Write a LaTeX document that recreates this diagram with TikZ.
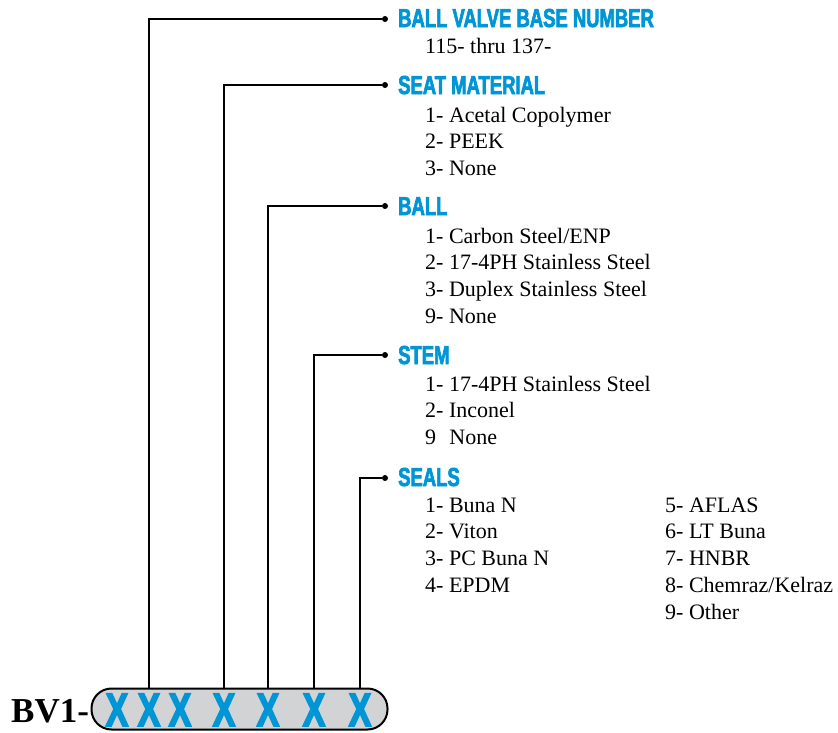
\documentclass[tikz,border=0pt]{standalone}
\usepackage{fontspec}
\setmainfont{Liberation Serif}
\newfontfamily\headfont[FakeStretch=0.71,FakeBold=2.6]{Liberation Sans Bold}
\newfontfamily\slotfont[FakeStretch=0.72,FakeBold=3.2]{Liberation Sans Bold}
\usetikzlibrary{positioning}
\definecolor{valveblue}{RGB}{0,150,214}
\definecolor{bargray}{RGB}{209,211,212}
\tikzset{
  heading/.style={anchor=base west, inner sep=0pt, text=valveblue, font=\headfont\fontsize{26}{26}\selectfont},
  item/.style={inner sep=0pt, text height=15pt, text depth=5pt, font=\fontsize{22}{22}\selectfont},
  slot/.style={anchor=base, inner sep=0pt, text=valveblue, font=\slotfont\fontsize{47}{47}\selectfont},
  lead/.style={line width=1.5pt},
  tip/.style={circle, fill, inner sep=0pt, minimum size=6pt},
}
\begin{document}
\begin{tikzpicture}[x=1pt,y=-1pt]
      \useasboundingbox (0,0) rectangle (838,732);

      \node[draw, line width=2pt, fill=bargray, rounded corners=20pt, minimum width=296pt, minimum height=41pt, inner sep=0pt] (bar) at (239.5,709) {};
      \node[anchor=base west, inner sep=0pt, font=\bfseries\fontsize{35}{35}\selectfont] (bv) at (11,722) {BV1-};
      \node[slot] (x1) at (117,726) {X};
      \node[slot] (x2) at (149,726) {X};
      \node[slot] (x3) at (180,726) {X};
      \node[slot] (x4) at (224,726) {X};
      \node[slot] (x5) at (268,726) {X};
      \node[slot] (x6) at (314,726) {X};
      \node[slot] (x7) at (360,726) {X};

      \node[tip] (dbase)  at (385,19)  {};
      \node[tip] (dseat)  at (385,85)  {};
      \node[tip] (dball)  at (385,206) {};
      \node[tip] (dstem)  at (385,355) {};
      \node[tip] (dseals) at (385,478) {};

      \node[heading] (hbase)  at (398,27)  {BALL VALVE BASE NUMBER};
      \node[heading] (hseat)  at (398,94)  {SEAT MATERIAL};
      \node[heading] (hball)  at (398,215) {BALL};
      \node[heading] (hstem)  at (398,364) {STEM};
      \node[heading] (hseals) at (398,486) {SEALS};

      \draw[lead] (x2 |- bar.north) |- (dbase);
      \draw[lead] (x4 |- bar.north) |- (dseat);
      \draw[lead] (x5 |- bar.north) |- (dball);
      \draw[lead] (x6 |- bar.north) |- (dstem);
      \draw[lead] (x7 |- bar.north) |- (dseals);

      \node[item, anchor=base west] (base1) at (425,53) {115- thru 137-};

      \node[item, anchor=base west] (seat1) at (425,122) {1- Acetal Copolymer};
      \node[item, below right=6.5pt and 0pt of seat1.south west] (seat2) {2- PEEK};
      \node[item, below right=6.5pt and 0pt of seat2.south west] (seat3) {3- None};

      \node[item, anchor=base west] (ball1) at (425,243) {1- Carbon Steel/ENP};
      \node[item, below right=6.5pt and 0pt of ball1.south west] (ball2) {2- 17-4PH Stainless Steel};
      \node[item, below right=6.5pt and 0pt of ball2.south west] (ball3) {3- Duplex Stainless Steel};
      \node[item, below right=6.5pt and 0pt of ball3.south west] (ball9) {9- None};

      \node[item, anchor=base west] (stem1) at (425,391) {1- 17-4PH Stainless Steel};
      \node[item, below right=6.5pt and 0pt of stem1.south west] (stem2) {2- Inconel};
      \node[item, below right=6.5pt and 0pt of stem2.south west] (stem9) {9\hspace{0.6em}None};

      \node[item, anchor=base west] (seal1) at (425,512) {1- Buna N};
      \node[item, below right=6.5pt and 0pt of seal1.south west] (seal2) {2- Viton};
      \node[item, below right=6.5pt and 0pt of seal2.south west] (seal3) {3- PC Buna N};
      \node[item, below right=6.5pt and 0pt of seal3.south west] (seal4) {4- EPDM};
      \node[item, anchor=base west] (seal5) at (665,512) {5- AFLAS};
      \node[item, below right=6.5pt and 0pt of seal5.south west] (seal6) {6- LT Buna};
      \node[item, below right=6.5pt and 0pt of seal6.south west] (seal7) {7- HNBR};
      \node[item, below right=6.5pt and 0pt of seal7.south west] (seal8) {8- Chemraz/Kelraz};
      \node[item, below right=6.5pt and 0pt of seal8.south west] (seal9) {9- Other};
    \end{tikzpicture}
\end{document}
